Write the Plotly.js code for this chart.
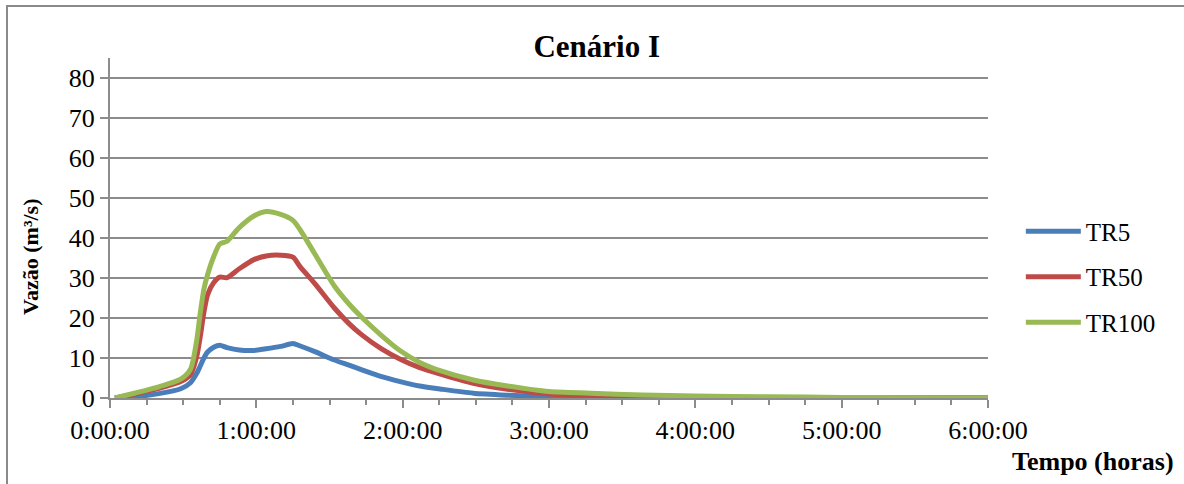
<!DOCTYPE html>
<html>
<head>
<meta charset="utf-8">
<script src="https://cdn.plot.ly/plotly-3.0.1.min.js"></script>
<style>
  html, body { margin: 0; padding: 0; background: #fff; overflow: hidden; }
  #frame { position: absolute; left: 6px; top: 5px; width: 1300px; height: 600px; border: 2px solid #8a8a8a; box-sizing: border-box; }
  #chart { position: absolute; left: 0; top: 0; width: 1184px; height: 484px; }
</style>
</head>
<body>
<div id="frame"></div>
<div id="chart"></div>
<script>
// time in minutes
const timeMin = [2, 10, 20, 29, 33, 35.5, 37, 38.5, 40, 42.5, 45, 48, 53, 59, 64, 70, 75, 78, 84, 92, 98, 103, 111, 119, 127, 136, 149, 163, 180, 197, 218, 240, 270, 300, 330, 360];
const tr5   = [0, 0.3, 1.1, 2.3, 3.8, 6.1, 8.0, 10.0, 11.5, 12.7, 13.2, 12.6, 12.0, 11.9, 12.3, 12.9, 13.6, 13.0, 11.6, 9.5, 8.2, 7.1, 5.4, 4.1, 3.0, 2.2, 1.2, 0.7, 0.3, 0.15, 0.05, 0, 0, 0, 0, 0];
const tr50  = [0, 1.0, 2.4, 4.1, 5.8, 10.2, 15.3, 21.4, 25.8, 28.8, 30.2, 30.1, 32.3, 34.6, 35.5, 35.7, 35.2, 32.8, 28.6, 22.5, 18.6, 15.9, 12.4, 9.7, 7.6, 5.9, 3.7, 2.2, 1.0, 0.5, 0.3, 0.15, 0.05, 0, 0, 0];
const tr100 = [0, 1.2, 2.8, 4.7, 7.2, 14.2, 21.2, 27.2, 30.8, 35.3, 38.5, 39.2, 42.6, 45.5, 46.6, 45.9, 44.4, 42.0, 36.0, 28.0, 23.5, 20.3, 15.8, 11.8, 8.9, 6.7, 4.5, 3.0, 1.6, 1.2, 0.75, 0.5, 0.3, 0.15, 0.05, 0];
const seriesNames = ['TR5', 'TR50', 'TR100'];
const seriesColors = ['#4a7ebb', '#be4b48', '#98b954'];
const xTickVals = [0, 1, 2, 3, 4, 5, 6];
const xTickText = ['0:00:00', '1:00:00', '2:00:00', '3:00:00', '4:00:00', '5:00:00', '6:00:00'];
const yTickVals = [0, 10, 20, 30, 40, 50, 60, 70, 80];
const chartTitle = 'Cenário I';
const xTitle = 'Tempo (horas)';
const yTitle = 'Vazão (m³/s)';

const hours = timeMin.map(m => m / 60);
const allSeries = [tr5, tr50, tr100];
const serif = 'Liberation Serif, Times New Roman, serif';
const grid = '#8c8c8c';

const traces = allSeries.map((ys, i) => ({
  x: hours, y: ys, type: 'scatter', mode: 'lines', name: seriesNames[i],
  legendgroup: seriesNames[i],
  line: { color: seriesColors[i], width: 5, shape: 'spline', smoothing: 0.7 }
}));

const layout = {
  width: 1184, height: 484,
  margin: { l: 110, r: 196, t: 58, b: 86 },
  paper_bgcolor: 'rgba(0,0,0,0)', plot_bgcolor: 'rgba(0,0,0,0)',
  font: { family: serif, color: '#000', size: 26 },
  title: { text: '<b>' + chartTitle + '</b>', font: { family: serif, size: 31, color: '#000' },
           x: 0.504, xref: 'container', xanchor: 'center', y: 0.905, yref: 'container', yanchor: 'middle' },
  xaxis: {
    range: [0, 6], tickmode: 'array', tickvals: xTickVals, ticktext: xTickText,
    showgrid: false, zeroline: false, showline: true, linecolor: grid, linewidth: 2,
    ticks: 'outside', ticklen: 8, tickwidth: 2, tickcolor: grid,
    tickfont: { family: serif, size: 26, color: '#000' },
    minor: { dtick: 0.25, tick0: 0, ticks: 'outside', ticklen: 5, tickwidth: 2, tickcolor: grid, showgrid: false }
  },
  yaxis: {
    range: [0, 85], tickmode: 'array', tickvals: yTickVals,
    showgrid: true, gridcolor: grid, gridwidth: 2, zeroline: false,
    showline: true, linecolor: grid, linewidth: 2,
    ticks: 'outside', ticklen: 8, tickwidth: 2, tickcolor: grid,
    tickfont: { family: serif, size: 26, color: '#000' }
  },
  legend: {
    x: 1.0374, xanchor: 'left', y: 0.356, yanchor: 'middle',
    font: { family: serif, size: 25, color: '#000' },
    itemwidth: 55,
    tracegroupgap: 10, bgcolor: 'rgba(0,0,0,0)'
  },
  annotations: [
    { text: '<b>' + xTitle + '</b>', xref: 'paper', yref: 'paper', x: 1.1196, y: -0.188,
      xanchor: 'center', yanchor: 'middle', showarrow: false,
      font: { family: serif, size: 26, color: '#000' } },
    { text: '<b>' + yTitle + '</b>', xref: 'paper', yref: 'paper', x: -0.09, y: 0.415,
      xanchor: 'center', yanchor: 'middle', showarrow: false, textangle: -90,
      font: { family: serif, size: 22, color: '#000' } }
  ]
};

Plotly.newPlot('chart', traces, layout, { displayModeBar: false, staticPlot: true });
</script>
</body>
</html>
